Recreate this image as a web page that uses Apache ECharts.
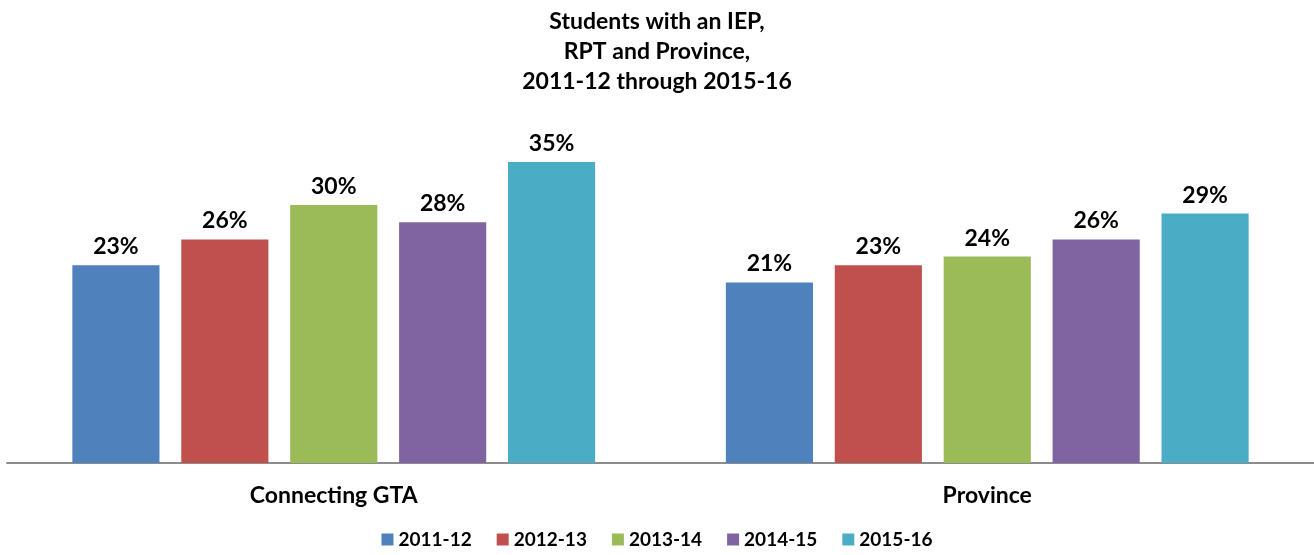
<!DOCTYPE html>
<html>
<head>
<meta charset="utf-8">
<script src="https://cdn.jsdelivr.net/npm/echarts@6/dist/echarts.min.js"></script>
<style>
  html, body { margin: 0; padding: 0; background: #fff; }
</style>
</head>
<body>
<div id="main" style="width:1314px;height:555px;"></div>
<script>
// data
var categories = ['Connecting GTA', 'Province'];
var years = ['2011-12', '2012-13', '2013-14', '2014-15', '2015-16'];
var v2011 = [23, 21];
var v2012 = [26, 23];
var v2013 = [30, 24];
var v2014 = [28, 26];
var v2015 = [35, 29];
var colors = ['#4F81BD', '#C0504D', '#9BBB59', '#8064A2', '#4BACC6'];

var font = 'Lato, "Open Sans", sans-serif';
var allValues = [v2011, v2012, v2013, v2014, v2015];

var myChart = echarts.init(document.getElementById('main'));
myChart.setOption({
  animation: false,
  color: colors,
  title: {
    text: 'Students with an IEP,\nRPT and Province,\n2011-12 through 2015-16',
    left: 'center',
    top: 2,
    textStyle: {
      fontFamily: font,
      fontWeight: 'bold',
      fontSize: 23,
      lineHeight: 30,
      color: '#000'
    }
  },
  legend: {
    data: years,
    bottom: 1,
    left: 'center',
    itemWidth: 12,
    itemHeight: 12,
    itemGap: 25,
    icon: 'rect',
    textStyle: {
      fontFamily: font,
      fontWeight: 'bold',
      fontSize: 19,
      color: '#000'
    }
  },
  grid: {
    left: 7,
    right: 0,
    top: 119,
    bottom: 92,
    containLabel: false
  },
  xAxis: {
    type: 'category',
    data: categories,
    axisLine: { lineStyle: { color: '#8c8c8c', width: 2 } },
    axisTick: { show: false },
    axisLabel: {
      margin: 21,
      fontFamily: font,
      fontWeight: 'bold',
      fontSize: 23,
      color: '#000'
    }
  },
  yAxis: {
    type: 'value',
    min: 0,
    max: 40,
    show: false,
    splitLine: { show: false }
  },
  series: years.map(function (y, i) {
    return {
      name: y,
      type: 'bar',
      data: allValues[i],
      barGap: '25%',
      barCategoryGap: '20%',
      itemStyle: { color: colors[i] },
      label: {
        show: true,
        position: 'top',
        distance: 7,
        formatter: '{c}%',
        fontFamily: font,
        fontWeight: 'bold',
        fontSize: 23,
        color: '#000'
      }
    };
  })
});
</script>
</body>
</html>
